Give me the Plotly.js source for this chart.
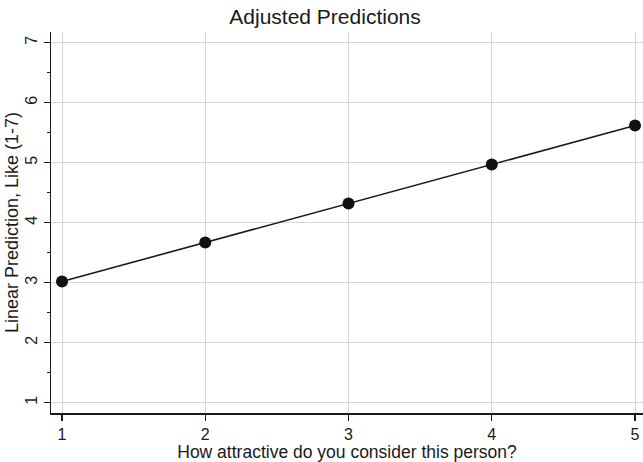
<!DOCTYPE html>
<html>
<head>
<meta charset="utf-8">
<script src="https://cdn.plot.ly/plotly-3.0.1.min.js"></script>
<style>html,body{margin:0;padding:0;background:#fff;}#chart{width:643px;height:462px;}</style>
</head>
<body>
<div id="chart"></div>
<script>
var attractiveness = [1, 2, 3, 4, 5];
var predictedLike = [3.02, 3.67, 4.32, 4.97, 5.62];
var xTickVals = [1, 2, 3, 4, 5];
var yTickVals = [1, 2, 3, 4, 5, 6, 7];

var FONT = 'Arial, "Liberation Sans", Helvetica, sans-serif';

var trace = {
  x: attractiveness,
  y: predictedLike,
  type: 'scatter',
  mode: 'lines+markers',
  line: {color: '#1a1a1a', width: 1.6},
  marker: {color: '#111111', size: 12},
  hoverinfo: 'x+y',
  cliponaxis: false
};

var layout = {
  width: 643,
  height: 462,
  margin: {l: 51, r: 0, t: 32, b: 49},
  paper_bgcolor: '#ffffff',
  plot_bgcolor: '#ffffff',
  showlegend: false,
  font: {family: FONT, color: '#222222'},
  title: {
    text: 'Adjusted Predictions',
    font: {family: FONT, size: 21, color: '#1a1a1a'},
    x: 0.5055, xref: 'container', xanchor: 'center',
    y: 0.963, yref: 'container', yanchor: 'middle'
  },
  xaxis: {
    range: [0.9232, 5.0558],
    tickvals: xTickVals,
    ticktext: xTickVals.map(String),
    ticks: 'outside', ticklen: 6, tickwidth: 1.3, tickcolor: '#1a1a1a',
    showline: true, linecolor: '#1a1a1a', linewidth: 1.5, mirror: false,
    showgrid: true, gridcolor: '#d6d6d6', gridwidth: 1,
    zeroline: false,
    tickfont: {family: FONT, size: 16, color: '#1a1a1a'},
    title: {text: 'How attractive do you consider this person?', font: {family: FONT, size: 17.5, color: '#1a1a1a'}, standoff: 1}
  },
  yaxis: {
    range: [0.828, 7.178],
    tickvals: yTickVals,
    ticktext: yTickVals.map(String),
    tickangle: -90,
    ticks: 'outside', ticklen: 6, tickwidth: 1.3, tickcolor: '#1a1a1a',
    minor: {dtick: 0.5, tick0: 0.5, ticks: 'outside', ticklen: 3, tickwidth: 1.2, tickcolor: '#1a1a1a', showgrid: false},
    showline: true, linecolor: '#1a1a1a', linewidth: 1.5, mirror: false,
    showgrid: true, gridcolor: '#d6d6d6', gridwidth: 1,
    zeroline: false,
    tickfont: {family: FONT, size: 16, color: '#1a1a1a'},
    title: {text: 'Linear Prediction, Like (1-7)', font: {family: FONT, size: 18, color: '#1a1a1a'}, standoff: 0}
  }
};

Plotly.newPlot('chart', [trace], layout, {displayModeBar: false, staticPlot: true});
</script>
</body>
</html>
